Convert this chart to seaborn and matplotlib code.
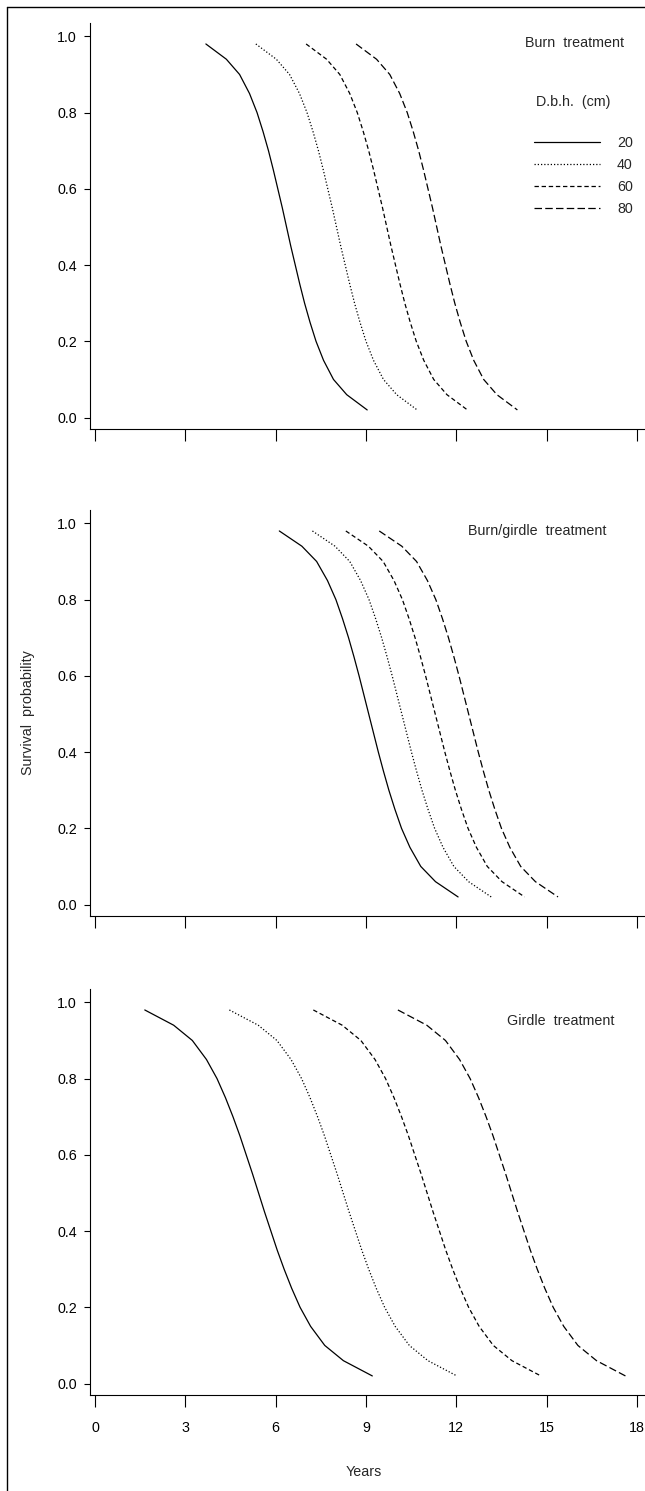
import pandas as pd
import numpy as np

import seaborn as sns
import matplotlib.pyplot as plt
from matplotlib.lines import Line2D

# survival probability levels where each curve was evaluated
PROB = [0.98, 0.94, 0.90, 0.85, 0.80, 0.75, 0.70, 0.65, 0.60, 0.55, 0.50,
        0.45, 0.40, 0.35, 0.30, 0.25, 0.20, 0.15, 0.10, 0.06, 0.02]
DBH = ['20', '40', '60', '80']

# years, one list per d.b.h. class
burn_20 = [3.68, 4.36, 4.80, 5.13, 5.38, 5.58, 5.76, 5.92, 6.07, 6.22, 6.36,
           6.50, 6.65, 6.80, 6.96, 7.14, 7.34, 7.59, 7.92, 8.36, 9.04]
burn_40 = [5.34, 6.02, 6.46, 6.79, 7.04, 7.24, 7.42, 7.58, 7.73, 7.88, 8.02,
           8.16, 8.31, 8.46, 8.62, 8.80, 9.00, 9.25, 9.58, 10.02, 10.70]
burn_60 = [7.01, 7.69, 8.13, 8.46, 8.71, 8.91, 9.09, 9.25, 9.40, 9.55, 9.69,
           9.83, 9.98, 10.13, 10.29, 10.47, 10.67, 10.92, 11.25, 11.69, 12.37]
burn_80 = [8.67, 9.35, 9.79, 10.12, 10.37, 10.57, 10.75, 10.91, 11.06, 11.21, 11.35,
           11.49, 11.64, 11.79, 11.95, 12.13, 12.33, 12.58, 12.91, 13.35, 14.03]

burngirdle_20 = [6.12, 6.87, 7.36, 7.72, 8.00, 8.22, 8.42, 8.60, 8.77, 8.93, 9.09,
                 9.25, 9.41, 9.58, 9.76, 9.96, 10.18, 10.46, 10.82, 11.31, 12.06]
burngirdle_40 = [7.22, 7.97, 8.46, 8.82, 9.10, 9.32, 9.52, 9.70, 9.87, 10.03, 10.19,
                 10.35, 10.51, 10.68, 10.86, 11.06, 11.28, 11.56, 11.92, 12.41, 13.16]
burngirdle_60 = [8.33, 9.08, 9.57, 9.93, 10.21, 10.43, 10.63, 10.81, 10.98, 11.14, 11.30,
                 11.46, 11.62, 11.79, 11.97, 12.17, 12.39, 12.67, 13.03, 13.52, 14.27]
burngirdle_80 = [9.44, 10.19, 10.68, 11.04, 11.32, 11.54, 11.74, 11.92, 12.09, 12.25, 12.41,
                 12.57, 12.73, 12.90, 13.08, 13.28, 13.50, 13.78, 14.14, 14.63, 15.38]

girdle_20 = [1.65, 2.61, 3.23, 3.70, 4.05, 4.33, 4.58, 4.81, 5.02, 5.23, 5.43,
             5.63, 5.84, 6.05, 6.28, 6.53, 6.81, 7.16, 7.63, 8.25, 9.21]
girdle_40 = [4.46, 5.42, 6.04, 6.51, 6.86, 7.14, 7.39, 7.62, 7.83, 8.04, 8.24,
             8.44, 8.65, 8.86, 9.09, 9.34, 9.62, 9.97, 10.44, 11.06, 12.02]
girdle_60 = [7.25, 8.21, 8.83, 9.30, 9.65, 9.93, 10.18, 10.41, 10.62, 10.83, 11.03,
             11.23, 11.44, 11.65, 11.88, 12.13, 12.41, 12.76, 13.23, 13.85, 14.81]
girdle_80 = [10.06, 11.02, 11.64, 12.11, 12.46, 12.74, 12.99, 13.22, 13.43, 13.64, 13.84,
             14.04, 14.25, 14.46, 14.69, 14.94, 15.22, 15.57, 16.04, 16.66, 17.62]

PANELS = [
    ('Burn  treatment', [burn_20, burn_40, burn_60, burn_80]),
    ('Burn/girdle  treatment', [burngirdle_20, burngirdle_40, burngirdle_60, burngirdle_80]),
    ('Girdle  treatment', [girdle_20, girdle_40, girdle_60, girdle_80]),
]

X_TICKS = [0, 3, 6, 9, 12, 15, 18]
Y_TICKS = [0.0, 0.2, 0.4, 0.6, 0.8, 1.0]


def panel_frame(curves):
    rows = []
    for dbh, years in zip(DBH, curves):
        for yr, p in zip(years, PROB):
            rows.append({'years': yr, 'prob': p, 'dbh': dbh})
    return pd.DataFrame(rows)


sns.set_style('ticks')
plt.rcParams['font.family'] = ['Liberation Sans', 'DejaVu Sans']
plt.rcParams['font.size'] = 10.3

W, H = 645, 1491
fig = plt.figure(figsize=(W / 100, H / 100), dpi=100)

dashes = {'20': '', '40': (1, 1.6), '60': (3.5, 2.2), '80': (6, 2.6)}

# (axis line y in px, text x px, text y px)
layout = [(429, 525, 43), (916, 468, 531), (1395, 507, 1021)]
axes = []
for (title, curves), (base_px, tx, ty) in zip(PANELS, layout):
    ax = fig.add_axes([90 / W, 1 - base_px / H, 1 - 90 / W, 406 / H])
    df = panel_frame(curves)
    sns.lineplot(data=df, x='years', y='prob', hue='dbh', style='dbh',
                 palette=['black'] * 4, dashes=dashes, estimator=None,
                 sort=False, legend=False, linewidth=0.9, ax=ax)
    ax.set_xlim(-0.17, 18.27)
    ax.set_ylim(-0.03, 1.035)
    ax.set_xticks(X_TICKS)
    ax.set_yticks(Y_TICKS)
    ax.set_yticklabels([f'{v:.1f}' for v in Y_TICKS])
    ax.set_xlabel('')
    ax.set_ylabel('')
    ax.tick_params(axis='y', direction='out', length=4.3, width=0.8, pad=5, colors='black')
    ax.tick_params(axis='x', direction='out', length=8.6, width=0.8, pad=10, colors='black')
    for s in ['left', 'bottom']:
        ax.spines[s].set_linewidth(0.8)
        ax.spines[s].set_color('black')
    sns.despine(ax=ax)
    ax.patch.set_alpha(0)
    fig.text(tx / W, 1 - ty / H, title, ha='left', va='center')
    axes.append(ax)

axes[0].tick_params(labelbottom=False)
axes[1].tick_params(labelbottom=False)

# legend for the d.b.h. classes in the top panel
fig.text(536 / W, 1 - 102 / H, 'D.b.h.  (cm)', ha='left', va='center')
axes[0].legend(handles=axes[0].lines[:4], labels=DBH, loc='upper left',
               bbox_to_anchor=(534 / W, 1 - 136 / H), bbox_transform=fig.transFigure,
               frameon=False, handlelength=4.6, handletextpad=1.2,
               labelspacing=0.55, borderpad=0, borderaxespad=0)

axes[1].set_ylabel('Survival  probability')
axes[1].yaxis.set_label_coords((35 - 90) / 555, 0.5)
axes[2].set_xlabel('Years')
axes[2].xaxis.set_label_coords((364 - 90) / 555, -(1465 - 1395) / 406)

# page frame
fig.add_artist(Line2D([7 / W, 7 / W], [0, 1 - 7 / H], color='black', lw=1))
fig.add_artist(Line2D([7 / W, 1], [1 - 7 / H, 1 - 7 / H], color='black', lw=1))

fig.savefig('out.png', dpi=100)
